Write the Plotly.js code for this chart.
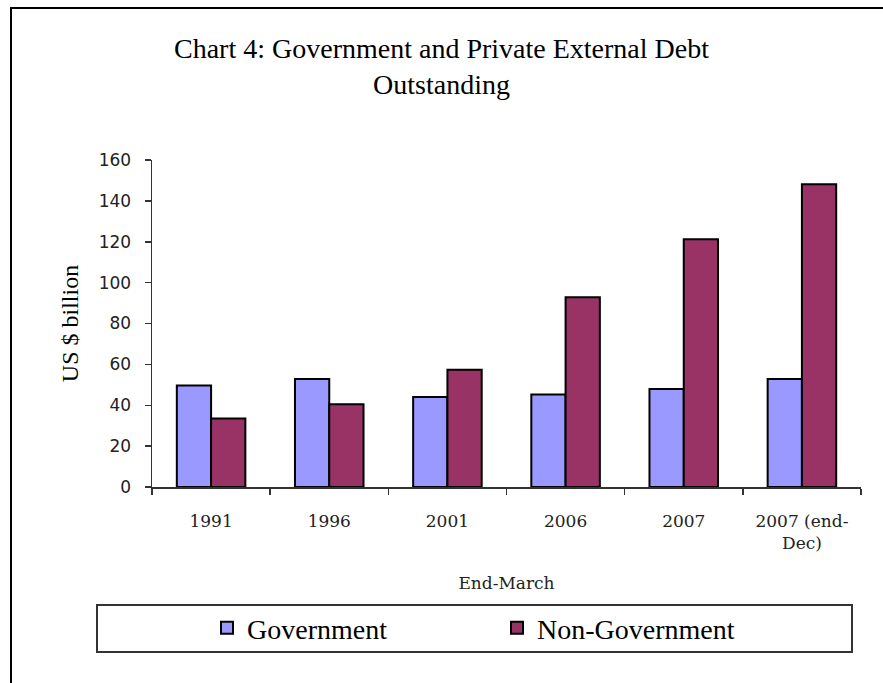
<!DOCTYPE html>
<html>
<head>
<meta charset="utf-8">
<script src="https://cdn.plot.ly/plotly-3.0.1.min.js"></script>
<style>
html,body{margin:0;padding:0;background:#fff;}
#wrap{position:relative;width:883px;height:683px;overflow:hidden;}
#chart{position:absolute;left:0;top:0;width:883px;height:683px;}
#frame{position:absolute;left:10px;top:7px;width:900px;height:700px;border-top:2px solid #000;border-left:2px solid #000;pointer-events:none;}
</style>
</head>
<body>
<div id="wrap"><div id="chart"></div><div id="frame"></div></div>
<script>
var categories = ["1991", "1996", "2001", "2006", "2007", "2007 (end-<br>Dec)"];
var government = [49.7, 52.8, 44.0, 45.2, 47.9, 52.8];
var nonGovernment = [33.5, 40.5, 57.4, 92.8, 121.2, 148.1];
var yTicks = [0, 20, 40, 60, 80, 100, 120, 140, 160];

var traces = [
  {type: "bar", name: "Government", x: categories, y: government,
   marker: {color: "#9999FF", line: {color: "#000000", width: 2}}},
  {type: "bar", name: "Non-Government", x: categories, y: nonGovernment,
   marker: {color: "#993366", line: {color: "#000000", width: 2}}}
];

var layout = {
  width: 883, height: 683,
  margin: {l: 152, r: 22, t: 160, b: 196},
  paper_bgcolor: "#ffffff", plot_bgcolor: "#ffffff",
  barmode: "group", bargap: 0.42, bargroupgap: 0,
  showlegend: true,
  title: {
    text: "Chart 4: Government and Private External Debt<br>Outstanding",
    font: {family: "Liberation Serif", size: 28, color: "#000"},
    x: 0.5, xref: "container", xanchor: "center",
    y: 1 - 58/683, yref: "container", yanchor: "top"
  },
  xaxis: {
    type: "category",
    showline: true, linecolor: "#333", linewidth: 1.5,
    ticks: "outside", tickson: "boundaries", ticklen: 6, tickcolor: "#333", tickwidth: 1.5,
    tickfont: {family: "DejaVu Serif", size: 17, color: "#222"},
    ticklabelstandoff: 18,
    showgrid: false, zeroline: false,
    title: {text: "End-March", font: {family: "DejaVu Serif", size: 17, color: "#222"}, standoff: 25}
  },
  yaxis: {
    range: [0, 160], tickvals: yTicks,
    showline: true, linecolor: "#333", linewidth: 1.5,
    ticks: "outside", ticklen: 6, tickcolor: "#333", tickwidth: 1.5,
    tickfont: {family: "DejaVu Sans", size: 17, color: "#222"},
    ticklabelstandoff: 10,
    showgrid: false, zeroline: false,
    title: {text: "US $ billion", font: {family: "Liberation Serif", size: 24, color: "#000"}, standoff: 13}
  },
  legend: {
    orientation: "h",
    x: 207/883, xanchor: "left", xref: "container",
    y: 1 - 628/683, yanchor: "middle", yref: "container",
    entrywidth: 245, entrywidthmode: "pixels",
    itemwidth: 30,
    font: {family: "Liberation Serif", size: 28, color: "#000"},
    bgcolor: "rgba(0,0,0,0)", borderwidth: 0
  },
  shapes: [
    {type: "rect", xref: "paper", yref: "paper",
     x0: (97 - 152) / 709, x1: (852 - 152) / 709,
     y0: (487 - 652) / 327, y1: (487 - 605) / 327,
     line: {color: "#333", width: 2}, fillcolor: "rgba(0,0,0,0)"}
  ]
};

Plotly.newPlot("chart", traces, layout, {displayModeBar: false, staticPlot: true});
</script>
</body>
</html>
